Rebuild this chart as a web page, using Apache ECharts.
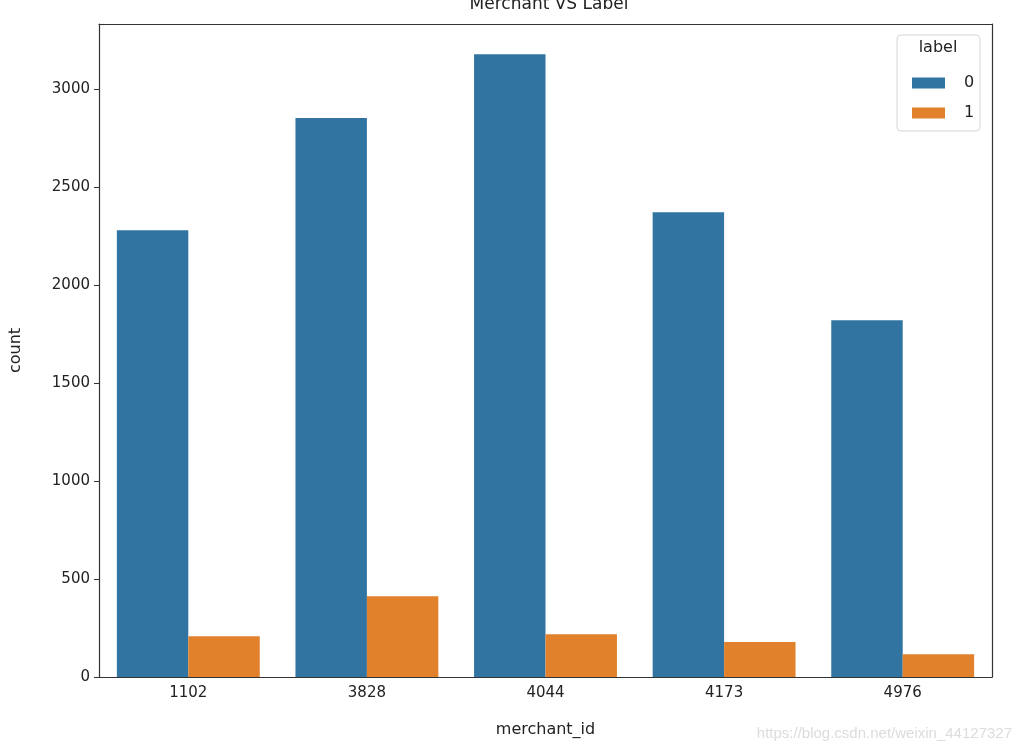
<!DOCTYPE html>
<html><head><meta charset="utf-8">
<script src="https://cdn.jsdelivr.net/npm/echarts@6/dist/echarts.min.js"></script>
<style>html,body{margin:0;padding:0;background:#fff}#c{width:1022px;height:748px}</style>
</head><body><div id="c"></div>
<script>
const categories = ['1102','3828','4044','4173','4976'];
const label0 = [2280, 2852, 3178, 2372, 1820];
const label1 = [208, 412, 218, 178, 116];
const yTicks = [0, 500, 1000, 1500, 2000, 2500, 3000];
const seriesNames = ['0', '1'];

const chart = echarts.init(document.getElementById('c'));
const font = 'DejaVu Sans';
const axisColor = '#333';
chart.setOption({
  animation: false,
  backgroundColor: '#fff',
  title: {
    text: 'Merchant VS Label', left: 544, top: -9, textAlign: 'center',
    textStyle: {fontFamily: font, fontSize: 17, fontWeight: 'normal', color: '#222'}
  },
  grid: {left: 98, right: 30, top: 24, bottom: 71},
  legend: {
    orient: 'vertical', left: 907, top: 70, itemWidth: 33, itemHeight: 11, itemGap: 14,
    icon: 'rect', data: seriesNames,
    textStyle: {fontFamily: font, fontSize: 16, color: '#222', padding: [0, 0, 0, 14]}
  },
  graphic: [
    {type: 'rect', shape: {x: 897, y: 35, width: 83, height: 96, r: 4}, style: {fill: 'rgba(255,255,255,0.8)', stroke: '#d6d6d6', lineWidth: 1}, z: 0},
    {type: 'text', x: 938, y: 40, style: {text: 'label', font: '16px DejaVu Sans', fill: '#222', textAlign: 'center'}},
    {type: 'text', right: 10, bottom: 7, style: {text: 'https://blog.csdn.net/weixin_44127327', font: '15px Arial', fill: '#dcdcdc'}}
  ],
  xAxis: [{
    type: 'category', data: categories, name: 'merchant_id', nameLocation: 'middle', nameGap: 45,
    nameTextStyle: {fontFamily: font, fontSize: 16, color: '#222'},
    axisLine: {lineStyle: {color: axisColor, width: 1.2}},
    axisTick: {alignWithLabel: true, length: 5, lineStyle: {color: axisColor}},
    axisLabel: {fontFamily: font, fontSize: 15, color: '#222', margin: 9}
  }, {
    type: 'category', data: categories, position: 'top',
    axisLine: {show: true, onZero: false, lineStyle: {color: axisColor, width: 1.2}},
    axisTick: {show: false}, axisLabel: {show: false}
  }],
  yAxis: [{
    type: 'value', min: 0, max: 3332, interval: 500, name: 'count', nameLocation: 'middle', nameGap: 75,
    nameTextStyle: {fontFamily: font, fontSize: 16, color: '#222'},
    splitLine: {show: false},
    axisLine: {show: true, lineStyle: {color: axisColor, width: 1.2}},
    axisTick: {show: true, length: 5, lineStyle: {color: axisColor}, customValues: yTicks},
    axisLabel: {fontFamily: font, fontSize: 15, color: '#222', margin: 9, customValues: yTicks,
      formatter: v => String(v)}
  }, {
    type: 'value', min: 0, max: 3332, position: 'right',
    splitLine: {show: false},
    axisLine: {show: true, lineStyle: {color: axisColor, width: 1.2}},
    axisTick: {show: false}, axisLabel: {show: false}
  }],
  series: [
    {name: seriesNames[0], type: 'bar', data: label0, barWidth: '40%', barGap: '0%',
     itemStyle: {color: '#3274a1'}},
    {name: seriesNames[1], type: 'bar', data: label1, barWidth: '40%', barGap: '0%',
     itemStyle: {color: '#e1812c'}}
  ]
});
</script></body></html>
